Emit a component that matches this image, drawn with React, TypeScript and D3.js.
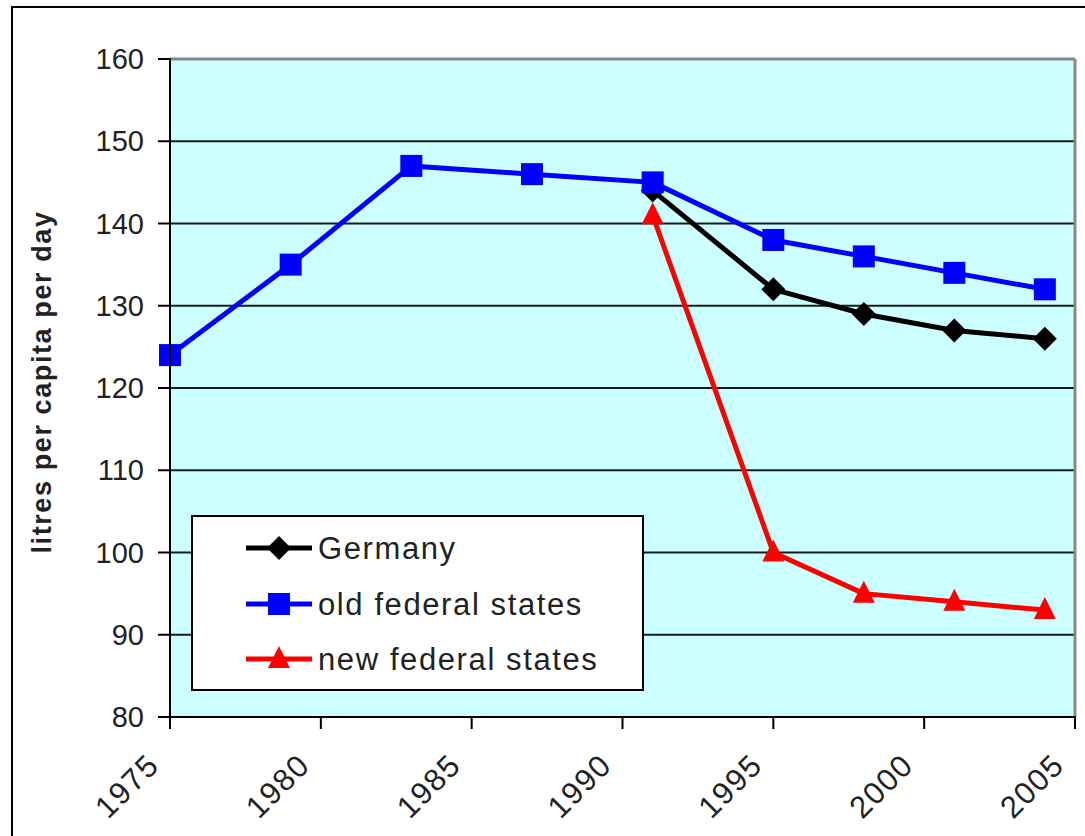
import React from 'react'
import { scaleLinear, line } from 'd3'

const years = [1975, 1979, 1983, 1987, 1991, 1995, 1998, 2001, 2004]
const oldStates = [124, 135, 147, 146, 145, 138, 136, 134, 132]
const germanyYears = [1991, 1995, 1998, 2001, 2004]
const germany = [144, 132, 129, 127, 126]
const newStates = [141, 100, 95, 94, 93]
const yTicks = [80, 90, 100, 110, 120, 130, 140, 150, 160]
const xTicks = [1975, 1980, 1985, 1990, 1995, 2000, 2005]
const legendItems = ['Germany', 'old federal states', 'new federal states']

const W = 1085
const H = 836
const plot = { left: 170, right: 1075, top: 59, bottom: 717 }

const x = scaleLinear().domain([1975, 2005]).range([plot.left, plot.right])
const y = scaleLinear().domain([80, 160]).range([plot.bottom, plot.top])

const font = '"Liberation Sans", Arial, sans-serif'

const marker = (kind: string, cx: number, cy: number, color: string, key: any) => {
  if (kind === 'square') {
    return <rect key={key} x={cx - 11} y={cy - 11} width={22} height={22} fill={color} />
  }
  if (kind === 'diamond') {
    return (
      <path key={key} d={`M${cx},${cy - 12}L${cx + 12},${cy}L${cx},${cy + 12}L${cx - 12},${cy}Z`} fill={color} />
    )
  }
  return (
    <path key={key} d={`M${cx},${cy - 13}L${cx + 11},${cy + 9}L${cx - 11},${cy + 9}Z`} fill={color} />
  )
}

const App = () => {
  const path = line<[number, number]>()
    .x((d) => x(d[0]))
    .y((d) => y(d[1]))

  const oldPts = years.map((yr, i) => [yr, oldStates[i]] as [number, number])
  const gerPts = germanyYears.map((yr, i) => [yr, germany[i]] as [number, number])
  const newPts = germanyYears.map((yr, i) => [yr, newStates[i]] as [number, number])

  const series = [
    { name: legendItems[0], pts: gerPts, color: '#000000', kind: 'diamond' },
    { name: legendItems[1], pts: oldPts, color: '#0000FF', kind: 'square' },
    { name: legendItems[2], pts: newPts, color: '#FF0000', kind: 'triangle' },
  ]
  // draw order: red, black, blue on top
  const drawOrder = [series[2], series[0], series[1]]

  const legend = { x: 192, y: 516, w: 451, h: 174 }
  const rowY = [548, 604, 659]

  return (
    <svg width={W} height={H} style={{ position: 'absolute', left: 0, top: 0, background: '#fff' }}>
      <rect x={12} y={7} width={1200} height={1000} fill="#fff" stroke="#000" strokeWidth={2} />

      <rect x={plot.left} y={plot.top} width={plot.right - plot.left} height={plot.bottom - plot.top} fill="#CCFFFF" />

      {yTicks.slice(1, -1).map((t) => (
        <line key={t} x1={plot.left} x2={plot.right} y1={y(t)} y2={y(t)} stroke="#1a1a1a" strokeWidth={2} />
      ))}

      <line x1={plot.left} x2={plot.right} y1={plot.top} y2={plot.top} stroke="#888" strokeWidth={3} />
      <line x1={plot.right} x2={plot.right} y1={plot.top} y2={plot.bottom} stroke="#888" strokeWidth={3} />

      {/* legend box */}
      <rect x={legend.x} y={legend.y} width={legend.w} height={legend.h} fill="#fff" stroke="#000" strokeWidth={2} />
      {series.map((s, i) => (
        <g key={s.name}>
          <line x1={246} x2={312} y1={rowY[i]} y2={rowY[i]} stroke={s.color} strokeWidth={5} />
          {marker(s.kind, 279, rowY[i], s.color, 'm')}
          <text x={318} y={rowY[i] + 11} fontFamily={font} fontSize={31} letterSpacing={1.6} fill="#222">
            {s.name}
          </text>
        </g>
      ))}

      {drawOrder.map((s) => (
        <g key={s.name}>
          <path d={path(s.pts) || ''} fill="none" stroke={s.color} strokeWidth={5} strokeLinejoin="round" />
          {s.pts.map((p, j) => marker(s.kind, x(p[0]), y(p[1]), s.color, j))}
        </g>
      ))}

      {/* axes */}
      <line x1={plot.left} x2={plot.left} y1={plot.top - 1} y2={plot.bottom + 12} stroke="#000" strokeWidth={2} />
      <line x1={plot.left - 12} x2={plot.right + 1} y1={plot.bottom} y2={plot.bottom} stroke="#000" strokeWidth={2} />
      {yTicks.map((t) => (
        <g key={t}>
          <line x1={plot.left - 12} x2={plot.left} y1={y(t)} y2={y(t)} stroke="#000" strokeWidth={2} />
          <text x={144} y={y(t) + 10} textAnchor="end" fontFamily={font} fontSize={29} fill="#222">
            {t}
          </text>
        </g>
      ))}
      {xTicks.map((t) => (
        <g key={t}>
          <line x1={x(t)} x2={x(t)} y1={plot.bottom} y2={plot.bottom + 12} stroke="#000" strokeWidth={2} />
          <text
            transform={`translate(${x(t) - 9},${plot.bottom + 50}) rotate(-45)`}
            textAnchor="end"
            fontFamily={font}
            fontSize={31}
            letterSpacing={1.5}
            fill="#222"
          >
            {t}
          </text>
        </g>
      ))}

      <text
        transform={`translate(51,382) rotate(-90)`}
        textAnchor="middle"
        fontFamily={font}
        fontSize={27}
        fontWeight="bold"
        letterSpacing={1.6}
        fill="#222"
      >
        litres per capita per day
      </text>
    </svg>
  )
}

export default App
